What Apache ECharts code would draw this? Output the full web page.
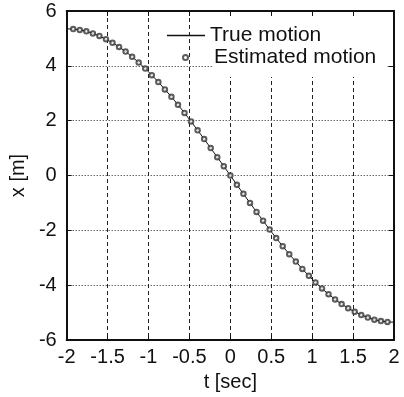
<!DOCTYPE html>
<html>
<head>
<meta charset="utf-8">
<script src="https://cdn.jsdelivr.net/npm/echarts@6/dist/echarts.min.js"></script>
<style>
  html, body { margin: 0; padding: 0; background: #fff; }
  #chart { width: 404px; height: 397px; }
</style>
</head>
<body>
<div id="chart"></div>
<script>
// time samples [sec]
var tSec = [-2.00, -1.92, -1.84, -1.76, -1.68, -1.60, -1.52, -1.44, -1.36, -1.28,
    -1.20, -1.12, -1.04, -0.96, -0.88, -0.80, -0.72, -0.64, -0.56, -0.48,
    -0.40, -0.32, -0.24, -0.16, -0.08, 0.00, 0.08, 0.16, 0.24, 0.32,
    0.40, 0.48, 0.56, 0.64, 0.72, 0.80, 0.88, 0.96, 1.04, 1.12,
    1.20, 1.28, 1.36, 1.44, 1.52, 1.60, 1.68, 1.76, 1.84, 1.92, 2.00];
// true position [m]
var xTrue = [5.35, 5.34, 5.31, 5.26, 5.18, 5.09, 4.97, 4.84, 4.69, 4.52,
    4.33, 4.12, 3.90, 3.66, 3.41, 3.14, 2.87, 2.58, 2.28, 1.97,
    1.65, 1.33, 1.00, 0.67, 0.34, 0.00, -0.34, -0.67, -1.00, -1.33,
    -1.65, -1.97, -2.28, -2.58, -2.87, -3.14, -3.41, -3.66, -3.90, -4.12,
    -4.33, -4.52, -4.69, -4.84, -4.97, -5.09, -5.18, -5.26, -5.31, -5.34, -5.35];
// estimated position [m] (no marker at the two end points)
var xEst = xTrue.slice(1, xTrue.length - 1);
var tEst = tSec.slice(1, tSec.length - 1);

var tRange = [-2, 2], tStep = 0.5;
var xRange = [-6, 6], xStep = 2;

var FONT = 'Liberation Sans, Arial, sans-serif';
var INK = '#111';

function pairs(a, b) {
    var out = [];
    for (var i = 0; i < a.length; i++) out.push([a[i], b[i]]);
    return out;
}

function xAxisCfg(pos, main) {
    return {
        type: 'value', position: pos, min: tRange[0], max: tRange[1], interval: tStep,
        name: main ? 't [sec]' : '', nameLocation: 'middle', nameGap: 32,
        nameTextStyle: { fontFamily: FONT, fontSize: 20, color: INK },
        axisLine: { show: true, onZero: false, lineStyle: { color: INK, width: 2 } },
        axisTick: { show: true, inside: true, length: 5, lineStyle: { color: INK, width: 1 } },
        axisLabel: { show: main, margin: 7, fontFamily: FONT, fontSize: 20, color: INK },
        splitLine: { show: main, lineStyle: { color: '#222', width: 1, type: [4, 3] } }
    };
}

function yAxisCfg(pos, main) {
    return {
        type: 'value', position: pos, min: xRange[0], max: xRange[1], interval: xStep,
        name: main ? 'x [m]' : '', nameLocation: 'middle', nameGap: 29,
        nameTextStyle: { fontFamily: FONT, fontSize: 20, color: INK },
        axisLine: { show: true, onZero: false, lineStyle: { color: INK, width: 2 } },
        axisTick: { show: true, inside: true, length: 5, lineStyle: { color: INK, width: 1 } },
        axisLabel: { show: main, margin: 10, fontFamily: FONT, fontSize: 20, color: INK },
        splitLine: { show: main, lineStyle: { color: '#222', width: 1, type: [1, 2] } }
    };
}

var myChart = echarts.init(document.getElementById('chart'), null, { renderer: 'canvas' });
myChart.setOption({
    animation: false,
    backgroundColor: '#fff',
    grid: { left: 63, right: 10, top: 11, bottom: 56 },
    xAxis: [xAxisCfg('bottom', true), xAxisCfg('top', false)],
    yAxis: [yAxisCfg('left', true), yAxisCfg('right', false)],
    // white box behind the legend text
    graphic: [{
        type: 'rect', z: 1, silent: true,
        shape: { x: 212, y: 17, width: 174, height: 60 },
        style: { fill: '#fff' }
    }],
    legend: [
        {
            data: [{ name: 'True motion', icon: 'rect' }], left: 167, top: 25, padding: 0,
            itemWidth: 38, itemHeight: 1.3,
            textStyle: { fontFamily: FONT, fontSize: 21, color: INK }
        },
        {
            data: ['Estimated motion'], left: 182, top: 47, padding: 0,
            itemWidth: 5, itemHeight: 5,
            textStyle: { fontFamily: FONT, fontSize: 21, color: INK, padding: [0, 0, 0, 21] }
        }
    ],
    series: [
        {
            name: 'True motion', type: 'line', symbol: 'none', z: 2,
            data: pairs(tSec, xTrue),
            lineStyle: { color: INK, width: 1 },
            itemStyle: { color: INK }
        },
        {
            name: 'Estimated motion', type: 'scatter', symbol: 'emptyCircle', symbolSize: 4.5, z: 3,
            data: pairs(tEst, xEst),
            itemStyle: { color: '#333', borderColor: '#333', borderWidth: 0.7 }
        }
    ]
});
</script>
</body>
</html>
